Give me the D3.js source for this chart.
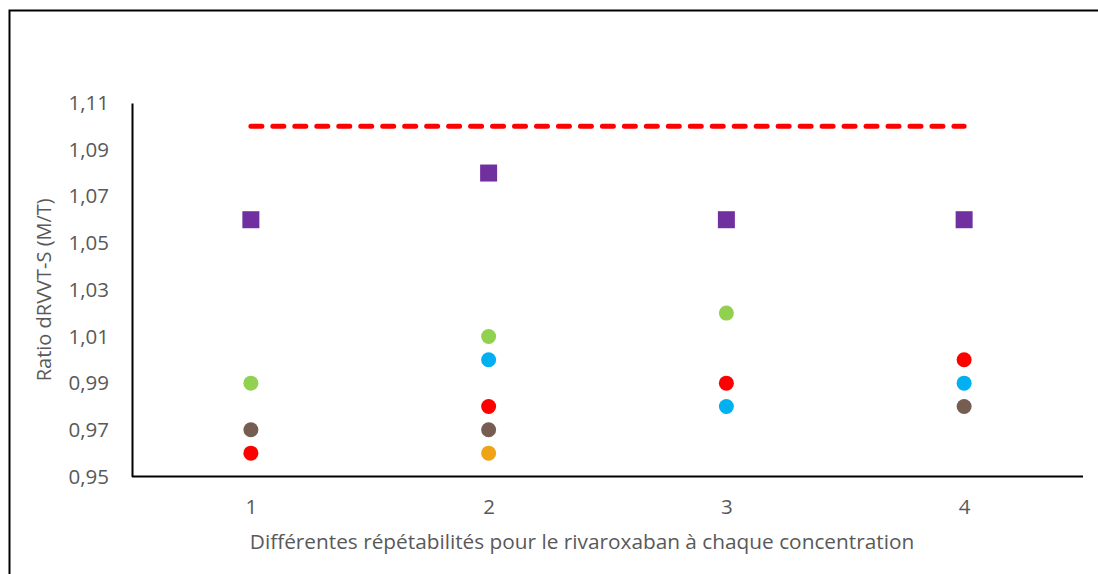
<!DOCTYPE html>
<html><head><meta charset="utf-8">
<script src="https://cdn.jsdelivr.net/npm/d3@7"></script>
<style>html,body{margin:0;padding:0;background:#fff;}svg{display:block;}</style>
</head><body>
<svg id="chart" width="1098" height="574"></svg>
<script>
const categories = ["1", "2", "3", "4"];
const yTicks = [0.95, 0.97, 0.99, 1.01, 1.03, 1.05, 1.07, 1.09, 1.11];
const limitValue = 1.10;
const seriesSquare = [1.06, 1.08, 1.06, 1.06];
const seriesGreen = [0.99, 1.01, 1.02, null];
const seriesBlue = [null, 1.00, 0.98, 0.99];
const seriesRed = [0.96, 0.98, 0.99, 1.00];
const seriesBrown = [0.97, 0.97, null, 0.98];
const seriesOrange = [null, 0.96, null, null];
const xTitle = "Différentes répétabilités pour le rivaroxaban à chaque concentration";
const yTitle = "Ratio dRVVT-S (M/T)";

const circleSeries = [
  {values: seriesGreen, color: "#92D050"},
  {values: seriesBlue, color: "#00B0F0"},
  {values: seriesRed, color: "#FF0000"},
  {values: seriesBrown, color: "#765D51"},
  {values: seriesOrange, color: "#EEA416"}
];

const svg = d3.select("#chart");
const L = 132, R = 1083, T = 103, B = 476.5;
const x = d3.scalePoint().domain(categories).range([L, R]).padding(0.5);
const y = d3.scaleLinear().domain([0.95, 1.11]).range([B, T]);
const font = "'Open Sans', sans-serif";
const gray = "#595959";

// outer frame
svg.append("rect").attr("x", 9.5).attr("y", 10.5).attr("width", 1300).attr("height", 1000)
  .attr("fill", "none").attr("stroke", "#000").attr("stroke-width", 2);

// y axis
const yAxis = svg.append("g").attr("transform", `translate(${L},0)`)
  .call(d3.axisLeft(y).tickValues(yTicks).tickSize(0).tickPadding(23)
    .tickFormat(d => d3.format(".2f")(d).replace(".", ",")));
yAxis.select(".domain").attr("stroke", "#000").attr("stroke-width", 2);
yAxis.selectAll("text").attr("font-family", font).attr("font-size", 20.5).attr("fill", gray);

// x axis
const xAxis = svg.append("g").attr("transform", `translate(0,${B})`)
  .call(d3.axisBottom(x).tickSize(0).tickPadding(23));
xAxis.select(".domain").attr("stroke", "#000").attr("stroke-width", 2).attr("d", `M${L},0H${R}`);
xAxis.selectAll("text").attr("font-family", font).attr("font-size", 20.5).attr("fill", gray);

// limit line
svg.append("line")
  .attr("x1", x(categories[0])).attr("x2", x(categories[categories.length - 1]))
  .attr("y1", y(limitValue)).attr("y2", y(limitValue))
  .attr("stroke", "#FF0000").attr("stroke-width", 5)
  .attr("stroke-dasharray", "11,10.97").attr("stroke-linecap", "round");

// squares
const sq = 17;
svg.append("g").selectAll("rect").data(seriesSquare.map((v, i) => ({c: categories[i], v})).filter(d => d.v != null))
  .join("rect")
  .attr("x", d => x(d.c) - sq / 2).attr("y", d => y(d.v) - sq / 2)
  .attr("width", sq).attr("height", sq).attr("fill", "#7030A0");

// circles
circleSeries.forEach(s => {
  svg.append("g").selectAll("circle")
    .data(s.values.map((v, i) => ({c: categories[i], v})).filter(d => d.v != null))
    .join("circle")
    .attr("cx", d => x(d.c)).attr("cy", d => y(d.v)).attr("r", 7.5).attr("fill", s.color);
});

// titles
svg.append("text").attr("x", 582).attr("y", 549).attr("text-anchor", "middle")
  .attr("font-family", font).attr("font-size", 20.8).attr("fill", gray).text(xTitle);
svg.append("text").attr("transform", `translate(51,${(T + B) / 2}) rotate(-90)`)
  .attr("text-anchor", "middle").attr("font-family", font).attr("font-size", 20).attr("fill", gray).text(yTitle);
</script>
</body></html>
